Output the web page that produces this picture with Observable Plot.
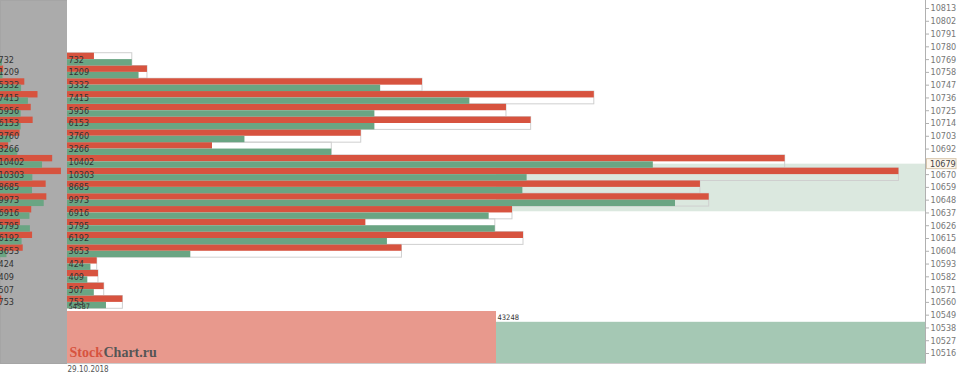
<!DOCTYPE html>
<html>
<head>
<meta charset="utf-8">
<script src="https://cdn.jsdelivr.net/npm/d3@7"></script>
<script src="https://cdn.jsdelivr.net/npm/@observablehq/plot@0.6"></script>
<style>
  html, body { margin: 0; padding: 0; background: white; }
  #chart { position: relative; width: 960px; height: 374px; overflow: hidden; }
  #chart svg { position: absolute; top: 0; left: 0; }
</style>
</head>
<body>
<div id="chart"></div>
<script>
// ---- data ----
const prices = [10769, 10758, 10747, 10736, 10725, 10714, 10703, 10692, 10681, 10670,
                10659, 10648, 10637, 10626, 10615, 10604, 10593, 10582, 10571, 10560];
const totals = [732, 1209, 5332, 7415, 5956, 6153, 3760, 3266, 10402, 10303,
                8685, 9973, 6916, 5795, 6192, 3653, 424, 409, 507, 753];
const sellVol = [215, 638, 2833, 4204, 3503, 3700, 2344, 1157, 5727, 6635,
                 5051, 5121, 3551, 2381, 3639, 2669, 237, 247, 293, 442];
const buyVol = [517, 571, 2499, 3211, 2453, 2453, 1416, 2109, 4675, 3668,
                3634, 4852, 3365, 3414, 2553, 984, 187, 162, 214, 311];
const tickValues = [10516, 10527, 10538, 10549, 10560, 10571, 10582, 10593, 10604, 10615,
                    10626, 10637, 10648, 10659, 10670, 10692, 10703, 10714, 10725, 10736,
                    10747, 10758, 10769, 10780, 10791, 10802, 10813];
const currentPrice = 10679;
const rangeLow = 10638;
const rangeHigh = 10679;
const summarySides = ["sell", "buy"];
const summaryValues = [54587, 43248];
const dateLabel = "29.10.2018";
const watermark = ["Stock", "Chart.ru"];

// ---- layout / style ----
const RED = "#d7533f", GREEN = "#6aa583";
const PINK = "#e8998d", LGREEN = "#a5c8b4", HILITE = "#dbe8df";
const FONT = "'DejaVu Sans Condensed', 'Liberation Sans', sans-serif";
const HALF = 5.5; // half a price step
const xMax = 6847;
const yScale = {domain: [10516, 10813], range: [353, 8], axis: null};

const rows = prices.map((p, i) => ({price: p, total: totals[i], sell: sellVol[i], buy: buyVol[i]}));
const summary = summarySides.map((s, i) => ({side: s, value: summaryValues[i]}));

const chart = document.getElementById("chart");

// main profile
const main = Plot.plot({
  width: 960, height: 374,
  marginLeft: 67, marginRight: 35, marginTop: 0, marginBottom: 11,
  x: {domain: [0, xMax], axis: null},
  y: yScale,
  style: {background: "white", fontFamily: FONT, fontSize: "9px", overflow: "visible"},
  marks: [
    Plot.rect([{lo: rangeLow, hi: rangeHigh}], {x1: xMax / 2, x2: xMax, y1: "lo", y2: "hi", fill: HILITE}),
    Plot.rect(rows, {x1: 0, x2: d => Math.max(d.sell, d.buy), y1: d => d.price - HALF, y2: d => d.price + HALF,
      fill: "none", stroke: "#cfcfcf", strokeWidth: 1}),
    Plot.rect(rows, {x1: 0, x2: "sell", y1: "price", y2: d => d.price + HALF, fill: RED}),
    Plot.rect(rows, {x1: 0, x2: "buy", y1: d => d.price - HALF, y2: "price", fill: GREEN}),
    Plot.text(rows, {x: 0, y: "price", text: d => String(d.total), textAnchor: "start", dx: 1, fill: "#333"}),
    Plot.ruleX([xMax], {stroke: "#b0b0b0"}),
    Plot.axisY(tickValues, {anchor: "right", tickSize: 3, tickPadding: 2, stroke: "#b0b0b0",
      fill: "#777", tickFormat: d => String(d), label: null}),
    Plot.rect([currentPrice], {x1: xMax, x2: xMax, y1: d => d, y2: d => d,
      insetLeft: 1.5, insetRight: -31, insetTop: -5, insetBottom: -5, fill: "#fdf6ec", stroke: "#d6c6ad"}),
    Plot.text([currentPrice], {x: xMax, y: d => d, text: d => String(d), dx: 4.5, textAnchor: "start", fill: "#444"}),
    Plot.frame({anchor: "bottom", stroke: "#cccccc"}),
    Plot.text([dateLabel], {frameAnchor: "bottom-left", text: d => d, textAnchor: "start", lineAnchor: "middle",
      dy: 6, fontSize: 8, fill: "#555"})
  ]
});
chart.appendChild(main);

// left compressed panel
const left = Plot.plot({
  width: 67, height: 374,
  marginLeft: 0, marginRight: 0, marginTop: 0, marginBottom: 11,
  x: {domain: [0, 7266], range: [-3, 67], axis: null},
  y: yScale,
  style: {background: "transparent", fontFamily: FONT, fontSize: "9px"},
  marks: [
    Plot.frame({fill: "#ababab", stroke: "#a5a5a5"}),
    Plot.rect(rows, {x1: 0, x2: "sell", y1: "price", y2: d => d.price + HALF, fill: RED}),
    Plot.rect(rows, {x1: 0, x2: "buy", y1: d => d.price - HALF, y2: "price", fill: GREEN}),
    Plot.text(rows, {x: 0, y: "price", text: d => String(d.total), textAnchor: "start", dx: 1, fill: "#333"})
  ]
});
chart.appendChild(left);

// bottom summary of sell / buy totals
const bottom = Plot.plot({
  width: 960, height: 374,
  marginLeft: 67, marginRight: 35, marginTop: 0, marginBottom: 11,
  x: {domain: [0, summary.length], axis: null},
  y: {domain: [0, summaryValues[0]], range: [363, 311], axis: null},
  color: {domain: summarySides, range: [PINK, LGREEN]},
  style: {background: "transparent", fontFamily: FONT, fontSize: "7.5px"},
  marks: [
    Plot.rectY(summary, {x1: (d, i) => i, x2: (d, i) => i + 1, y: "value", fill: "side"}),
    Plot.text(summary, {x: (d, i) => i, y: "value", text: d => String(d.value), textAnchor: "start",
      dx: 1, dy: -4.5, fill: "#333"}),
    Plot.text([watermark[0]], {frameAnchor: "bottom-left", text: d => d, textAnchor: "start", dx: 2, dy: -7,
      fontFamily: "'Liberation Serif', 'DejaVu Serif', serif", fontWeight: "bold", fontSize: 14, fill: "#d7533f"}),
    Plot.text([watermark[1]], {frameAnchor: "bottom-left", text: d => d, textAnchor: "start", dx: 36, dy: -7,
      fontFamily: "'Liberation Serif', 'DejaVu Serif', serif", fontWeight: "bold", fontSize: 14, fill: "#555"})
  ]
});
chart.appendChild(bottom);
</script>
</body>
</html>
